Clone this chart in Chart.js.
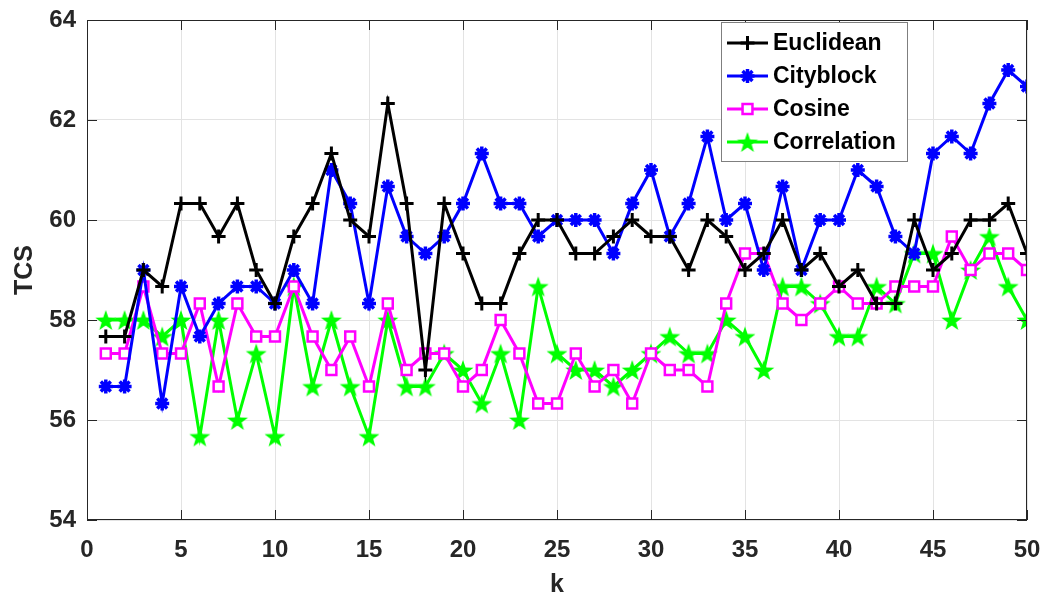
<!DOCTYPE html>
<html>
<head>
<meta charset="utf-8">
<script src="https://cdn.jsdelivr.net/npm/chart.js@4.4.1/dist/chart.umd.min.js"></script>
<style>
  html, body { margin: 0; padding: 0; background: #fff; }
  #wrap { width: 1042px; height: 604px; }
</style>
</head>
<body>
<div id="wrap"><canvas id="myChart" width="1042" height="604"></canvas></div>
<script>
// k values
var ks = [1,2,3,4,5,6,7,8,9,10,11,12,13,14,15,16,17,18,19,20,21,22,23,24,25,
          26,27,28,29,30,31,32,33,34,35,36,37,38,39,40,41,42,43,44,45,46,47,48,49,50];

var euclidean = [57.67,57.67,59.0,58.67,60.33,60.33,59.67,60.33,59.0,58.33,
                 59.67,60.33,61.33,60.0,59.67,62.33,60.33,57.0,60.33,59.33,
                 58.33,58.33,59.33,60.0,60.0,59.33,59.33,59.67,60.0,59.67,
                 59.67,59.0,60.0,59.67,59.0,59.33,60.0,59.0,59.33,58.67,
                 59.0,58.33,58.33,60.0,59.0,59.33,60.0,60.0,60.33,59.33];
var cityblock = [56.67,56.67,59.0,56.33,58.67,57.67,58.33,58.67,58.67,58.33,
                 59.0,58.33,61.0,60.33,58.33,60.67,59.67,59.33,59.67,60.33,
                 61.33,60.33,60.33,59.67,60.0,60.0,60.0,59.33,60.33,61.0,
                 59.67,60.33,61.67,60.0,60.33,59.0,60.67,59.0,60.0,60.0,
                 61.0,60.67,59.67,59.33,61.33,61.67,61.33,62.33,63.0,62.67];
var cosine = [57.33,57.33,58.67,57.33,57.33,58.33,56.67,58.33,57.67,57.67,
              58.67,57.67,57.0,57.67,56.67,58.33,57.0,57.33,57.33,56.67,
              57.0,58.0,57.33,56.33,56.33,57.33,56.67,57.0,56.33,57.33,
              57.0,57.0,56.67,58.33,59.33,59.33,58.33,58.0,58.33,58.67,
              58.33,58.33,58.67,58.67,58.67,59.67,59.0,59.33,59.33,59.0];
var correlation = [58.0,58.0,58.0,57.67,58.0,55.67,58.0,56.0,57.33,55.67,
                   58.67,56.67,58.0,56.67,55.67,58.0,56.67,56.67,57.33,57.0,
                   56.33,57.33,56.0,58.67,57.33,57.0,57.0,56.67,57.0,57.33,
                   57.67,57.33,57.33,58.0,57.67,57.0,58.67,58.67,58.33,57.67,
                   57.67,58.67,58.33,59.33,59.33,58.0,59.0,59.67,58.67,58.0];

var xTicks = [0,5,10,15,20,25,30,35,40,45,50];
var yTicks = [54,56,58,60,62,64];

var axisColor = "#262626";
var fontFam = "'Liberation Sans', Arial, Helvetica, sans-serif";

// pentagram marker like matlab 'p'
function makeStar(r, color){
  var c = document.createElement("canvas");
  c.width = c.height = Math.ceil(2*r + 2);
  var g = c.getContext("2d");
  g.beginPath();
  for (var i = 0; i < 10; i++){
    var a = -Math.PI/2 + i*Math.PI/5;
    var rad = (i % 2) ? r*0.4 : r;
    var px = c.width/2 + rad*Math.cos(a);
    var py = c.height/2 + rad*Math.sin(a) + r*0.1;
    if (i === 0) g.moveTo(px, py); else g.lineTo(px, py);
  }
  g.closePath();
  g.fillStyle = color;
  g.fill();
  return c;
}
var greenStar = makeStar(11, "#00ff00");

function pts(vals){
  return ks.map(function(k, i){ return {x: k, y: vals[i]}; });
}

// box, inward ticks and legend drawn over the plot
var boxPlugin = {
  id: "matlabBox",
  afterDraw: function(chart){
    var ctx = chart.ctx, a = chart.chartArea;
    var xs = chart.scales.x, ys = chart.scales.y;
    ctx.save();
    ctx.strokeStyle = axisColor;
    ctx.lineWidth = 1;
    ctx.strokeRect(a.left + 0.5, a.top + 0.5, a.right - a.left - 1, a.bottom - a.top - 1);
    ctx.beginPath();
    xTicks.forEach(function(t){
      var px = Math.round(xs.getPixelForValue(t)) + 0.5;
      ctx.moveTo(px, a.bottom); ctx.lineTo(px, a.bottom - 10);
      ctx.moveTo(px, a.top); ctx.lineTo(px, a.top + 10);
    });
    yTicks.forEach(function(t){
      var py = Math.round(ys.getPixelForValue(t)) + 0.5;
      ctx.moveTo(a.left, py); ctx.lineTo(a.left + 10, py);
      ctx.moveTo(a.right, py); ctx.lineTo(a.right - 10, py);
    });
    ctx.stroke();

    // legend
    var lx = 721, ly = 22, lw = 186, lh = 139;
    ctx.fillStyle = "#fff";
    ctx.fillRect(lx, ly, lw, lh);
    ctx.strokeStyle = "#7f7f7f";
    ctx.lineWidth = 1;
    ctx.strokeRect(lx + 0.5, ly + 0.5, lw, lh);
    ctx.font = "bold 23px " + fontFam;
    ctx.textBaseline = "middle";
    chart.data.datasets.forEach(function(ds, i){
      var cy = 43 + i*33;
      ctx.strokeStyle = ds.borderColor;
      ctx.lineWidth = 3;
      ctx.beginPath();
      ctx.moveTo(727, cy); ctx.lineTo(768, cy);
      ctx.stroke();
      ctx.fillStyle = ds.pointBackgroundColor;
      ctx.strokeStyle = ds.borderColor;
      ctx.lineWidth = ds.pointBorderWidth;
      Chart.helpers.drawPoint(ctx, {
        pointStyle: ds.pointStyle, radius: ds.pointRadius,
        borderWidth: ds.pointBorderWidth, rotation: 0
      }, 747.5, cy);
      ctx.fillStyle = "#000";
      ctx.fillText(ds.label, 773, cy + 1);
    });
    ctx.restore();
  }
};

new Chart("myChart", {
  type: "line",
  data: {
    datasets: [{
      label: "Euclidean",
      data: pts(euclidean),
      borderColor: "#000000",
      pointBackgroundColor: "#000000",
      pointStyle: "cross",
      pointRadius: 7,
      pointBorderWidth: 3
    }, {
      label: "Cityblock",
      data: pts(cityblock),
      borderColor: "#0000ff",
      pointBackgroundColor: "#0000ff",
      pointStyle: "star",
      pointRadius: 7,
      pointBorderWidth: 3.5
    }, {
      label: "Cosine",
      data: pts(cosine),
      borderColor: "#ff00ff",
      pointBackgroundColor: "#ffffff",
      pointStyle: "rect",
      pointRadius: 7,
      pointBorderWidth: 2.5
    }, {
      label: "Correlation",
      data: pts(correlation),
      borderColor: "#00ff00",
      pointBackgroundColor: "#00ff00",
      pointStyle: greenStar,
      pointRadius: 11,
      pointBorderWidth: 0
    }]
  },
  options: {
    responsive: false,
    animation: false,
    devicePixelRatio: 1,
    layout: { padding: { top: 20, right: 15, left: 0, bottom: 0 } },
    elements: {
      line: { borderWidth: 3, tension: 0 },
      point: { hoverRadius: 7 }
    },
    plugins: {
      legend: { display: false },
      tooltip: { enabled: false }
    },
    scales: {
      x: {
        type: "linear",
        min: 0, max: 50,
        afterBuildTicks: function(s){ s.ticks = xTicks.map(function(v){ return {value: v}; }); },
        afterFit: function(s){ s.height = 84; s.paddingLeft = 0; s.paddingRight = 0; },
        grid: { color: "#e3e3e3", drawTicks: false },
        border: { display: false },
        ticks: { color: axisColor, font: { family: fontFam, size: 24, weight: "bold" }, padding: 16, maxRotation: 0 },
        title: { display: true, text: "k", color: axisColor,
                 font: { family: fontFam, size: 25, weight: "bold" }, padding: { top: 0, bottom: 4 } }
      },
      y: {
        min: 54, max: 64,
        afterBuildTicks: function(s){ s.ticks = yTicks.map(function(v){ return {value: v}; }); },
        afterFit: function(s){ s.width = 87; s.paddingTop = 0; s.paddingBottom = 0; },
        grid: { color: "#e3e3e3", drawTicks: false },
        border: { display: false },
        ticks: { color: axisColor, font: { family: fontFam, size: 24, weight: "bold" }, padding: 11 },
        title: { display: true, text: "TCS", color: axisColor,
                 font: { family: fontFam, size: 25, weight: "bold" }, padding: { top: 10, bottom: 0 } }
      }
    }
  },
  plugins: [boxPlugin]
});
</script>
</body>
</html>
